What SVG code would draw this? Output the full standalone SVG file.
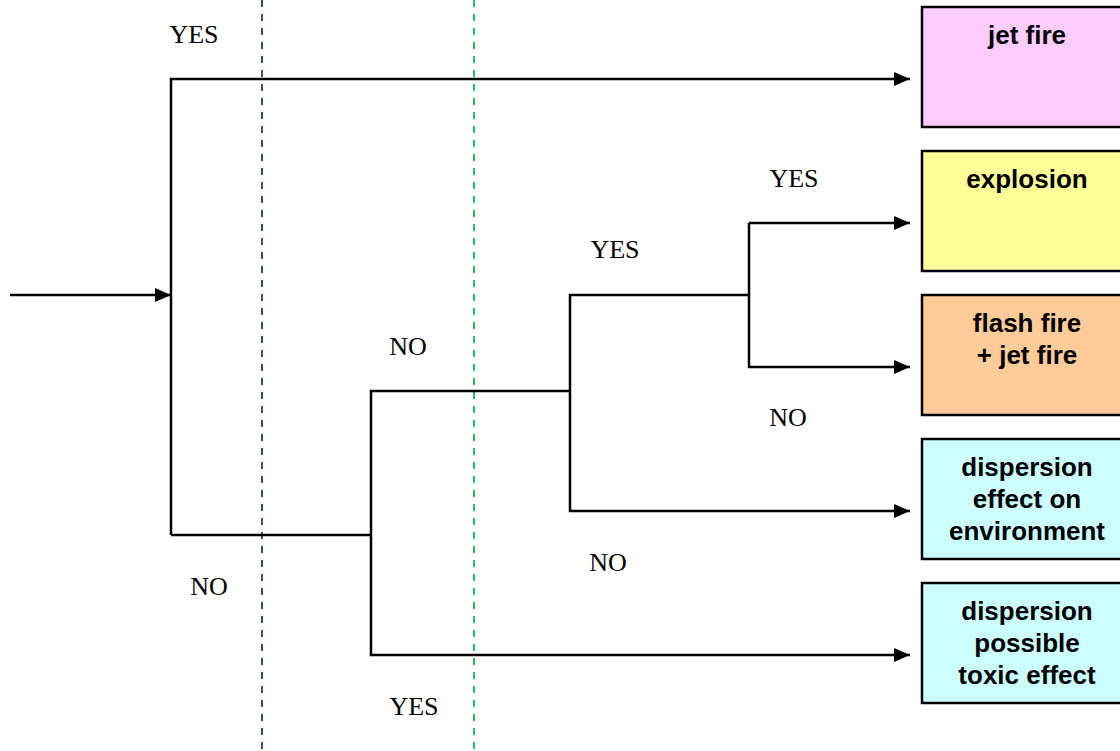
<svg xmlns="http://www.w3.org/2000/svg" width="1120" height="751" viewBox="0 0 1120 751">
<style>
.c{stroke:#000;stroke-width:2.5;fill:none}
.b{stroke:#000;stroke-width:2.5}
.g{stroke-width:2;stroke-dasharray:7,7}
.t{font-family:"Liberation Sans",Arial,sans-serif;font-weight:bold;font-size:26px;fill:#000;text-anchor:middle}
.l{font-family:"Liberation Serif","Times New Roman",serif;font-size:26px;fill:#000;text-anchor:middle}
</style>
<defs>
<marker id="ah" markerWidth="16" markerHeight="14" refX="16" refY="7" orient="auto" markerUnits="userSpaceOnUse">
<path d="M0,0 L16,7 L0,14 Z" fill="#000"/>
</marker>
</defs>
<rect width="1120" height="751" fill="#fff"/>
<g id="guides">
<line class="g" x1="262" y1="0" x2="262" y2="751" stroke="#34507e"/>
<line class="g" x1="474" y1="0" x2="474" y2="751" stroke="#22c262"/>
</g>
<g id="connectors">
<line class="c" x1="10" y1="295" x2="171" y2="295" marker-end="url(#ah)"/>
<polyline class="c" points="171,535 171,79 910,79" marker-end="url(#ah)"/>
<polyline class="c" points="171,535 371,535"/>
<polyline class="c" points="570,391 371,391 371,655 910,655" marker-end="url(#ah)"/>
<polyline class="c" points="749,295 570,295 570,511 910,511" marker-end="url(#ah)"/>
<polyline class="c" points="749,223 749,367 910,367" marker-end="url(#ah)"/>
<line class="c" x1="749" y1="223" x2="910" y2="223" marker-end="url(#ah)"/>
</g>
<g id="labels">
<text class="l" x="194" y="43">YES</text>
<text class="l" x="794" y="187">YES</text>
<text class="l" x="615" y="258">YES</text>
<text class="l" x="408" y="355">NO</text>
<text class="l" x="788" y="426">NO</text>
<text class="l" x="608" y="571">NO</text>
<text class="l" x="209" y="595">NO</text>
<text class="l" x="414" y="715">YES</text>
</g>
<g id="jet-fire">
<rect class="b" x="922" y="7" width="210" height="120" fill="#ffccff"/>
<text class="t" x="1027" y="44">jet fire</text>
</g>
<g id="explosion">
<rect class="b" x="922" y="151" width="210" height="120" fill="#ffff99"/>
<text class="t" x="1027" y="188">explosion</text>
</g>
<g id="flash-fire">
<rect class="b" x="922" y="295" width="210" height="120" fill="#ffcc99"/>
<text class="t" x="1027" y="332">flash fire</text>
<text class="t" x="1027" y="364">+ jet fire</text>
</g>
<g id="dispersion-env">
<rect class="b" x="922" y="439" width="210" height="120" fill="#ccffff"/>
<text class="t" x="1027" y="476">dispersion</text>
<text class="t" x="1027" y="508">effect on</text>
<text class="t" x="1027" y="540">environment</text>
</g>
<g id="dispersion-toxic">
<rect class="b" x="922" y="583" width="210" height="120" fill="#ccffff"/>
<text class="t" x="1027" y="620">dispersion</text>
<text class="t" x="1027" y="652">possible</text>
<text class="t" x="1027" y="684">toxic effect</text>
</g>
</svg>
